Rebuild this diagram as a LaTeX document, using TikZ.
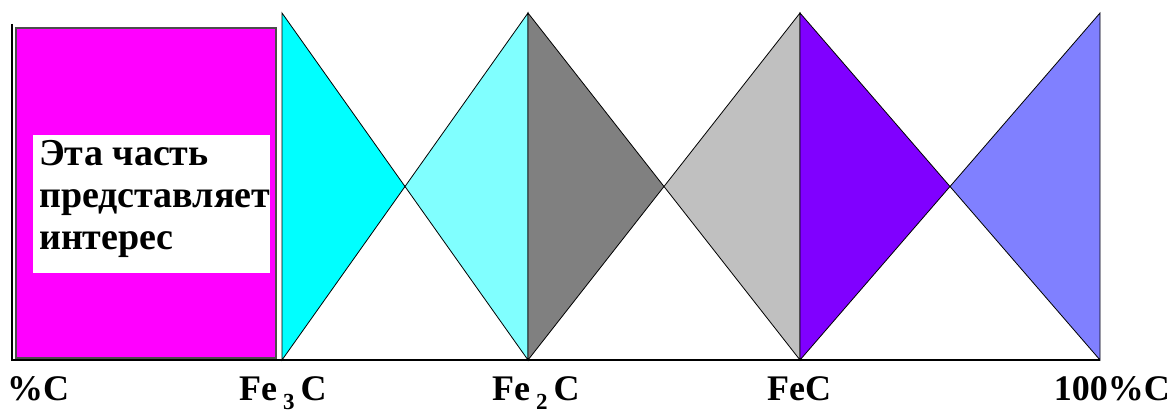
\documentclass[tikz,border=0pt]{standalone}
\usepackage{fontspec}
\setmainfont{Liberation Serif}
\usetikzlibrary{calc}
\definecolor{pinkfill}{RGB}{255,0,255}
\definecolor{cyanfill}{RGB}{0,255,255}
\definecolor{paleCyan}{RGB}{128,255,255}
\definecolor{darkGrey}{RGB}{128,128,128}
\definecolor{lightGrey}{RGB}{192,192,192}
\definecolor{violetfill}{RGB}{128,0,255}
\definecolor{paleViolet}{RGB}{128,128,255}
\newcommand{\lowidx}[1]{\,\raisebox{-0.25em}{\fontsize{23}{23}\selectfont #1}\,}
\tikzset{
  wedge/.style={draw=black, line width=0.8pt, line join=miter},
  lbl/.style={font=\fontsize{36}{36}\selectfont\bfseries, inner sep=0pt, anchor=base west},
}

\begin{document}
\begin{tikzpicture}[x=1pt, y=1pt]
    \useasboundingbox (0,0) rectangle (1173,420);

    % the axis corners and the four composition lines
    \coordinate (origin) at (12,60);
    \coordinate (top) at (12,396);
    \coordinate (end) at (1100,60);
    \coordinate (t1) at (282,407); \coordinate (b1) at (282,60);
    \coordinate (t2) at (528,407); \coordinate (b2) at (528,60);
    \coordinate (t3) at (800,407); \coordinate (b3) at (800,60);
    \coordinate (t4) at (1100,407); \coordinate (b4) at (1100,60);
    \coordinate (c1) at ($(t1)!0.5!(b2)$);
    \coordinate (c2) at ($(t2)!0.5!(b3)$);
    \coordinate (c3) at ($(t3)!0.5!(b4)$);

    \draw[fill=pinkfill, draw=black!70, line width=1.2pt] (16,62) rectangle (276,392);
    \fill[white] (33,147) rectangle (270,285);
    \node[anchor=north west, inner sep=0pt, align=left,
          font=\fontsize{38}{42}\selectfont\bfseries] (note) at (39,280)
        {Эта часть\\представляет\\интерес};

    \draw[wedge, fill=cyanfill] (t1) -- (b1) -- (c1) -- cycle;
    \draw[wedge, fill=paleCyan] (t2) -- (b2) -- (c1) -- cycle;
    \draw[wedge, fill=darkGrey] (t2) -- (b2) -- (c2) -- cycle;
    \draw[wedge, fill=lightGrey] (t3) -- (b3) -- (c2) -- cycle;
    \draw[wedge, fill=violetfill] (t3) -- (b3) -- (c3) -- cycle;
    \draw[wedge, fill=paleViolet] (t4) -- (b4) -- (c3) -- cycle;

    \draw[line width=1.2pt] (top) -- (origin) -- (end);

    \node[lbl] (pct) at (7,19) {\%C};
    \node[lbl] (fe3c) at (239,19) {Fe\lowidx{3}C};
    \node[lbl] (fe2c) at (492,19) {Fe\lowidx{2}C};
    \node[lbl] (fec) at (767,19) {FeC};
    \node[lbl, anchor=base east] (full) at (1170,19) {100\%C};
\end{tikzpicture}
\end{document}
